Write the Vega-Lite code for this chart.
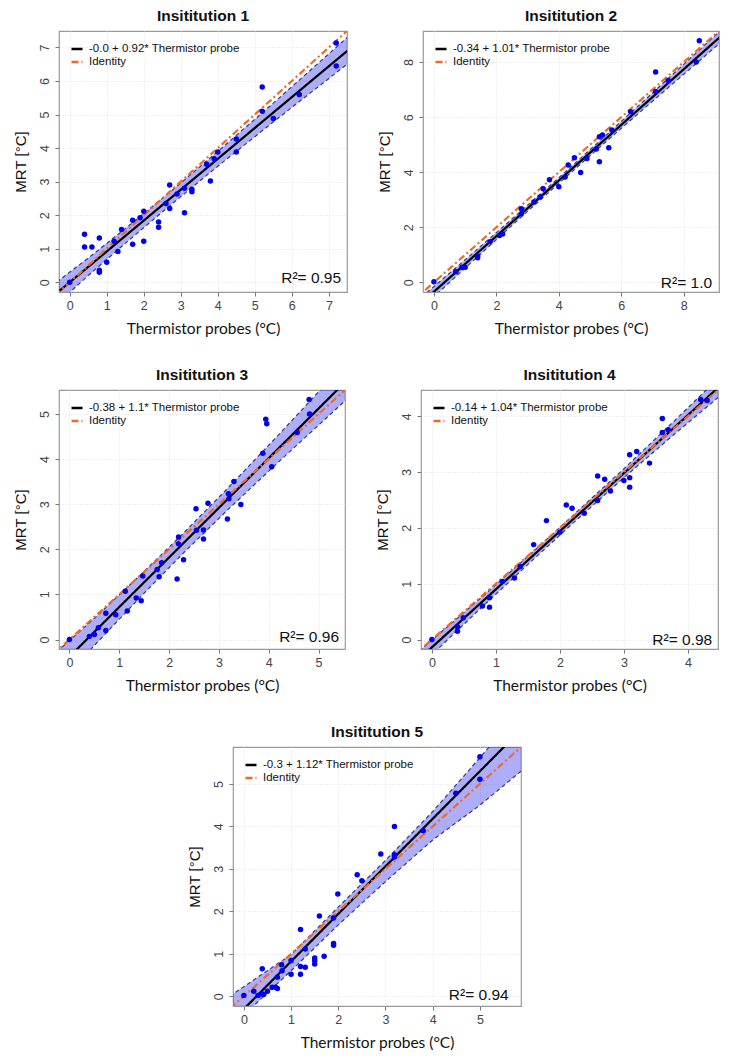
{
  "$schema": "https://vega.github.io/schema/vega-lite/v6.json",
  "background": "white",
  "padding": {"left": 12, "top": 7, "right": 5, "bottom": 5},
  "spacing": 28,
  "center": false,
  "resolve": {"scale": {"color": "independent", "strokeDash": "independent"}, "legend": {"color": "independent", "strokeDash": "independent"}},
  "config": {
    "view": {"stroke": "#999999", "strokeWidth": 1.2},
    "font": "Liberation Sans",
    "title": {"font": "Liberation Sans", "fontSize": 15.5, "fontWeight": "bold", "color": "#111111", "offset": 7},
    "axis": {"domain": false, "ticks": true, "tickColor": "#777777", "tickSize": 4, "labelFont": "Liberation Sans", "labelFontSize": 12.5, "labelColor": "#444444", "labelOverlap": false, "grid": true, "gridColor": "#e2e2e2", "gridDash": [1, 2], "titleFontWeight": "normal", "titleColor": "#111111"},
    "axisX": {"labelPadding": 3, "titlePadding": 10, "titleFont": "Lato", "titleFontSize": 15.5},
    "axisY": {"labelAngle": -90, "labelAlign": "center", "labelBaseline": "bottom", "labelPadding": 4, "titlePadding": 10, "titleFont": "Liberation Sans", "titleFontSize": 15, "labelOverlap": false},
    "legend": {"orient": "top-left", "offset": 11, "padding": 0, "labelFont": "Liberation Sans", "labelFontSize": 11.5, "labelColor": "#111111", "labelLimit": 300, "symbolType": "stroke", "symbolSize": 121, "symbolStrokeWidth": 2.5, "rowPadding": -3, "labelOffset": 5}
  },
  "vconcat": [
    {
      "spacing": 28,
      "resolve": {"scale": {"color": "independent", "strokeDash": "independent"}, "legend": {"color": "independent", "strokeDash": "independent"}},
      "hconcat": [
        {
          "width": 288, "height": 261,
          "title": "Insititution 1",
          "layer": [
            {
              "encoding": {
                "x": {"field": "x", "type": "quantitative", "scale": {"domain": [-0.29, 7.49], "nice": false, "zero": false}, "axis": {"title": "Thermistor probes (°C)", "values": [0, 1, 2, 3, 4, 5, 6, 7], "format": "d", "labelOverlap": false}},
                "y": {"field": "y", "type": "quantitative", "scale": {"domain": [-0.29, 7.49], "nice": false, "zero": false}, "axis": {"title": "MRT [°C]", "values": [0, 1, 2, 3, 4, 5, 6, 7], "format": "d", "labelOverlap": false}}
              },
              "layer": [
                {
                  "data": {"values": [{"x": -0.35, "lo": -0.65, "hi": 0.01}, {"x": 0.5, "lo": 0.2, "hi": 0.72}, {"x": 1.5, "lo": 1.16, "hi": 1.6}, {"x": 2.7, "lo": 2.28, "hi": 2.68}, {"x": 4.0, "lo": 3.46, "hi": 3.9}, {"x": 5.5, "lo": 4.78, "hi": 5.34}, {"x": 7.55, "lo": 6.55, "hi": 7.35}]},
                  "mark": {"type": "area", "color": "#3333ee", "opacity": 0.4, "clip": true},
                  "encoding": {
                    "y": {"field": "lo", "type": "quantitative", "scale": {"domain": [-0.29, 7.49], "nice": false, "zero": false}, "axis": {"title": "MRT [°C]", "values": [0, 1, 2, 3, 4, 5, 6, 7], "format": "d", "labelOverlap": false}},
                    "y2": {"field": "hi"}
                  }
                },
                {
                  "data": {"values": [{"x": -0.35, "lo": -0.65, "hi": 0.01}, {"x": 0.5, "lo": 0.2, "hi": 0.72}, {"x": 1.5, "lo": 1.16, "hi": 1.6}, {"x": 2.7, "lo": 2.28, "hi": 2.68}, {"x": 4.0, "lo": 3.46, "hi": 3.9}, {"x": 5.5, "lo": 4.78, "hi": 5.34}, {"x": 7.55, "lo": 6.55, "hi": 7.35}]},
                  "transform": [{"fold": ["lo", "hi"], "as": ["bound", "y"]}],
                  "mark": {"type": "line", "color": "#2b3a92", "strokeDash": [4, 3], "strokeWidth": 1.2, "clip": true},
                  "encoding": {"detail": {"field": "bound"}}
                },
                {
                  "data": {"values": [{"s": "-0.0 + 0.92* Thermistor probe", "x": -1, "y": -0.92}, {"s": "-0.0 + 0.92* Thermistor probe", "x": 8, "y": 7.36}, {"s": "Identity", "x": -1, "y": -1}, {"s": "Identity", "x": 8, "y": 8}]},
                  "mark": {"type": "line", "strokeWidth": 2.2, "clip": true},
                  "encoding": {
                    "color": {"field": "s", "type": "nominal", "scale": {"domain": ["-0.0 + 0.92* Thermistor probe", "Identity"], "range": ["#000000", "#ee6a2a"]}, "legend": {"title": null}},
                    "strokeDash": {"field": "s", "type": "nominal", "scale": {"domain": ["-0.0 + 0.92* Thermistor probe", "Identity"], "range": [[1, 0], [7, 3, 2, 3]]}, "legend": {"title": null}}
                  }
                },
                {
                  "data": {"values": [{"x": 0, "y": 0}, {"x": 0.4, "y": 1.43}, {"x": 0.4, "y": 1.05}, {"x": 0.6, "y": 1.05}, {"x": 0.8, "y": 1.32}, {"x": 0.8, "y": 0.36}, {"x": 0.8, "y": 0.3}, {"x": 1.0, "y": 0.6}, {"x": 1.2, "y": 1.22}, {"x": 1.3, "y": 0.92}, {"x": 1.4, "y": 1.57}, {"x": 1.7, "y": 1.85}, {"x": 1.7, "y": 1.13}, {"x": 1.9, "y": 1.92}, {"x": 2.0, "y": 2.12}, {"x": 2.0, "y": 1.22}, {"x": 2.4, "y": 1.8}, {"x": 2.4, "y": 1.64}, {"x": 2.6, "y": 2.35}, {"x": 2.7, "y": 2.9}, {"x": 2.7, "y": 2.2}, {"x": 2.9, "y": 2.63}, {"x": 3.1, "y": 2.07}, {"x": 3.1, "y": 2.8}, {"x": 3.3, "y": 2.77}, {"x": 3.3, "y": 2.7}, {"x": 3.7, "y": 3.52}, {"x": 3.8, "y": 3.02}, {"x": 3.9, "y": 3.68}, {"x": 4.0, "y": 3.88}, {"x": 4.5, "y": 4.27}, {"x": 4.5, "y": 3.88}, {"x": 5.2, "y": 5.82}, {"x": 5.2, "y": 5.1}, {"x": 5.5, "y": 4.88}, {"x": 6.2, "y": 5.6}, {"x": 7.2, "y": 7.13}, {"x": 7.2, "y": 6.45}]},
                  "mark": {"type": "circle", "color": "#0000ee", "opacity": 1, "size": 30}
                }
              ]
            },
            {
              "data": {"values": [{"label": "R²= 0.95"}]},
              "mark": {"type": "text", "align": "right", "baseline": "alphabetic", "fontSize": 15.5, "font": "Liberation Sans", "color": "#111111"},
              "encoding": {
                "x": {"datum": 7.33, "type": "quantitative", "axis": {"title": "Thermistor probes (°C)", "values": [0, 1, 2, 3, 4, 5, 6, 7], "format": "d", "labelOverlap": false}},
                "y": {"datum": -0.02, "type": "quantitative", "axis": {"title": "MRT [°C]", "values": [0, 1, 2, 3, 4, 5, 6, 7], "format": "d", "labelOverlap": false}},
                "text": {"field": "label"}
              }
            }
          ]
        },
        {
          "width": 296, "height": 261,
          "title": "Insititution 2",
          "layer": [
            {
              "encoding": {
                "x": {"field": "x", "type": "quantitative", "scale": {"domain": [-0.35, 9.13], "nice": false, "zero": false}, "axis": {"title": "Thermistor probes (°C)", "values": [0, 2, 4, 6, 8], "format": "d", "labelOverlap": false}},
                "y": {"field": "y", "type": "quantitative", "scale": {"domain": [-0.35, 9.13], "nice": false, "zero": false}, "axis": {"title": "MRT [°C]", "values": [0, 2, 4, 6, 8], "format": "d", "labelOverlap": false}}
              },
              "layer": [
                {
                  "data": {"values": [{"x": -0.4, "lo": -0.94, "hi": -0.54}, {"x": 1, "lo": 0.52, "hi": 0.82}, {"x": 2.5, "lo": 2.07, "hi": 2.3}, {"x": 4, "lo": 3.6, "hi": 3.8}, {"x": 5.5, "lo": 5.1, "hi": 5.33}, {"x": 7, "lo": 6.58, "hi": 6.88}, {"x": 9.2, "lo": 8.73, "hi": 9.17}]},
                  "mark": {"type": "area", "color": "#3333ee", "opacity": 0.4, "clip": true},
                  "encoding": {
                    "y": {"field": "lo", "type": "quantitative", "scale": {"domain": [-0.35, 9.13], "nice": false, "zero": false}, "axis": {"title": "MRT [°C]", "values": [0, 2, 4, 6, 8], "format": "d", "labelOverlap": false}},
                    "y2": {"field": "hi"}
                  }
                },
                {
                  "data": {"values": [{"x": -0.4, "lo": -0.94, "hi": -0.54}, {"x": 1, "lo": 0.52, "hi": 0.82}, {"x": 2.5, "lo": 2.07, "hi": 2.3}, {"x": 4, "lo": 3.6, "hi": 3.8}, {"x": 5.5, "lo": 5.1, "hi": 5.33}, {"x": 7, "lo": 6.58, "hi": 6.88}, {"x": 9.2, "lo": 8.73, "hi": 9.17}]},
                  "transform": [{"fold": ["lo", "hi"], "as": ["bound", "y"]}],
                  "mark": {"type": "line", "color": "#2b3a92", "strokeDash": [4, 3], "strokeWidth": 1.2, "clip": true},
                  "encoding": {"detail": {"field": "bound"}}
                },
                {
                  "data": {"values": [{"s": "-0.34 + 1.01* Thermistor probe", "x": -1, "y": -1.35}, {"s": "-0.34 + 1.01* Thermistor probe", "x": 10, "y": 9.76}, {"s": "Identity", "x": -1, "y": -1}, {"s": "Identity", "x": 10, "y": 10}]},
                  "mark": {"type": "line", "strokeWidth": 2.2, "clip": true},
                  "encoding": {
                    "color": {"field": "s", "type": "nominal", "scale": {"domain": ["-0.34 + 1.01* Thermistor probe", "Identity"], "range": ["#000000", "#ee6a2a"]}, "legend": {"title": null}},
                    "strokeDash": {"field": "s", "type": "nominal", "scale": {"domain": ["-0.34 + 1.01* Thermistor probe", "Identity"], "range": [[1, 0], [7, 3, 2, 3]]}, "legend": {"title": null}}
                  }
                },
                {
                  "data": {"values": [{"x": 0, "y": 0.02}, {"x": 0.7, "y": 0.39}, {"x": 0.9, "y": 0.55}, {"x": 1.0, "y": 0.55}, {"x": 1.4, "y": 0.97}, {"x": 1.4, "y": 0.89}, {"x": 1.8, "y": 1.48}, {"x": 2.1, "y": 1.7}, {"x": 2.2, "y": 1.76}, {"x": 2.8, "y": 2.67}, {"x": 2.8, "y": 2.49}, {"x": 3.2, "y": 2.92}, {"x": 3.4, "y": 3.1}, {"x": 3.5, "y": 3.4}, {"x": 3.7, "y": 3.73}, {"x": 4.0, "y": 3.47}, {"x": 4.2, "y": 3.83}, {"x": 4.3, "y": 4.26}, {"x": 4.5, "y": 4.53}, {"x": 4.7, "y": 3.99}, {"x": 4.9, "y": 4.5}, {"x": 5.2, "y": 4.84}, {"x": 5.3, "y": 4.38}, {"x": 5.3, "y": 5.29}, {"x": 5.4, "y": 5.35}, {"x": 5.6, "y": 4.89}, {"x": 5.7, "y": 5.53}, {"x": 6.3, "y": 6.2}, {"x": 7.1, "y": 7.64}, {"x": 7.1, "y": 6.93}, {"x": 7.5, "y": 7.33}, {"x": 8.4, "y": 8.0}, {"x": 8.5, "y": 8.78}]},
                  "mark": {"type": "circle", "color": "#0000ee", "opacity": 1, "size": 30}
                }
              ]
            },
            {
              "data": {"values": [{"label": "R²= 1.0"}]},
              "mark": {"type": "text", "align": "right", "baseline": "alphabetic", "fontSize": 15.5, "font": "Liberation Sans", "color": "#111111"},
              "encoding": {
                "x": {"datum": 8.91, "type": "quantitative", "axis": {"title": "Thermistor probes (°C)", "values": [0, 2, 4, 6, 8], "format": "d", "labelOverlap": false}},
                "y": {"datum": -0.2, "type": "quantitative", "axis": {"title": "MRT [°C]", "values": [0, 2, 4, 6, 8], "format": "d", "labelOverlap": false}},
                "text": {"field": "label"}
              }
            }
          ]
        }
      ]
    },
    {
      "spacing": 28,
      "resolve": {"scale": {"color": "independent", "strokeDash": "independent"}, "legend": {"color": "independent", "strokeDash": "independent"}},
      "hconcat": [
        {
          "width": 286, "height": 259,
          "title": "Insititution 3",
          "layer": [
            {
              "encoding": {
                "x": {"field": "x", "type": "quantitative", "scale": {"domain": [-0.21, 5.53], "nice": false, "zero": false}, "axis": {"title": "Thermistor probes (°C)", "values": [0, 1, 2, 3, 4, 5], "format": "d", "labelOverlap": false}},
                "y": {"field": "y", "type": "quantitative", "scale": {"domain": [-0.21, 5.53], "nice": false, "zero": false}, "axis": {"title": "MRT [°C]", "values": [0, 1, 2, 3, 4, 5], "format": "d", "labelOverlap": false}}
              },
              "layer": [
                {
                  "data": {"values": [{"x": -0.25, "lo": -1.03, "hi": -0.27}, {"x": 0.5, "lo": -0.13, "hi": 0.47}, {"x": 1.5, "lo": 1.03, "hi": 1.51}, {"x": 2.3, "lo": 1.93, "hi": 2.37}, {"x": 3.2, "lo": 2.9, "hi": 3.38}, {"x": 4.2, "lo": 3.94, "hi": 4.54}, {"x": 5.6, "lo": 5.36, "hi": 6.2}]},
                  "mark": {"type": "area", "color": "#3333ee", "opacity": 0.4, "clip": true},
                  "encoding": {
                    "y": {"field": "lo", "type": "quantitative", "scale": {"domain": [-0.21, 5.53], "nice": false, "zero": false}, "axis": {"title": "MRT [°C]", "values": [0, 1, 2, 3, 4, 5], "format": "d", "labelOverlap": false}},
                    "y2": {"field": "hi"}
                  }
                },
                {
                  "data": {"values": [{"x": -0.25, "lo": -1.03, "hi": -0.27}, {"x": 0.5, "lo": -0.13, "hi": 0.47}, {"x": 1.5, "lo": 1.03, "hi": 1.51}, {"x": 2.3, "lo": 1.93, "hi": 2.37}, {"x": 3.2, "lo": 2.9, "hi": 3.38}, {"x": 4.2, "lo": 3.94, "hi": 4.54}, {"x": 5.6, "lo": 5.36, "hi": 6.2}]},
                  "transform": [{"fold": ["lo", "hi"], "as": ["bound", "y"]}],
                  "mark": {"type": "line", "color": "#2b3a92", "strokeDash": [4, 3], "strokeWidth": 1.2, "clip": true},
                  "encoding": {"detail": {"field": "bound"}}
                },
                {
                  "data": {"values": [{"s": "-0.38 + 1.1* Thermistor probe", "x": -1, "y": -1.48}, {"s": "-0.38 + 1.1* Thermistor probe", "x": 6, "y": 6.22}, {"s": "Identity", "x": -1, "y": -1}, {"s": "Identity", "x": 6, "y": 6}]},
                  "mark": {"type": "line", "strokeWidth": 2.2, "clip": true},
                  "encoding": {
                    "color": {"field": "s", "type": "nominal", "scale": {"domain": ["-0.38 + 1.1* Thermistor probe", "Identity"], "range": ["#000000", "#ee6a2a"]}, "legend": {"title": null}},
                    "strokeDash": {"field": "s", "type": "nominal", "scale": {"domain": ["-0.38 + 1.1* Thermistor probe", "Identity"], "range": [[1, 0], [7, 3, 2, 3]]}, "legend": {"title": null}}
                  }
                },
                {
                  "data": {"values": [{"x": 0, "y": 0}, {"x": 0.4, "y": 0.07}, {"x": 0.5, "y": 0.11}, {"x": 0.58, "y": 0.26}, {"x": 0.73, "y": 0.58}, {"x": 0.73, "y": 0.2}, {"x": 0.93, "y": 0.55}, {"x": 1.12, "y": 1.07}, {"x": 1.16, "y": 0.63}, {"x": 1.34, "y": 0.92}, {"x": 1.44, "y": 0.86}, {"x": 1.47, "y": 1.41}, {"x": 1.76, "y": 1.55}, {"x": 1.8, "y": 1.39}, {"x": 1.85, "y": 1.7}, {"x": 2.16, "y": 1.34}, {"x": 2.19, "y": 2.27}, {"x": 2.19, "y": 2.12}, {"x": 2.29, "y": 1.77}, {"x": 2.54, "y": 2.9}, {"x": 2.55, "y": 2.42}, {"x": 2.69, "y": 2.43}, {"x": 2.69, "y": 2.23}, {"x": 2.78, "y": 3.02}, {"x": 3.17, "y": 2.67}, {"x": 3.19, "y": 3.23}, {"x": 3.2, "y": 3.12}, {"x": 3.3, "y": 3.5}, {"x": 3.44, "y": 2.99}, {"x": 3.88, "y": 4.13}, {"x": 3.94, "y": 4.88}, {"x": 3.96, "y": 4.78}, {"x": 4.06, "y": 3.83}, {"x": 4.57, "y": 4.59}, {"x": 4.81, "y": 5.32}, {"x": 4.82, "y": 5.0}]},
                  "mark": {"type": "circle", "color": "#0000ee", "opacity": 1, "size": 30}
                }
              ]
            },
            {
              "data": {"values": [{"label": "R²= 0.96"}]},
              "mark": {"type": "text", "align": "right", "baseline": "alphabetic", "fontSize": 15.5, "font": "Liberation Sans", "color": "#111111"},
              "encoding": {
                "x": {"datum": 5.41, "type": "quantitative", "axis": {"title": "Thermistor probes (°C)", "values": [0, 1, 2, 3, 4, 5], "format": "d", "labelOverlap": false}},
                "y": {"datum": -0.055, "type": "quantitative", "axis": {"title": "MRT [°C]", "values": [0, 1, 2, 3, 4, 5], "format": "d", "labelOverlap": false}},
                "text": {"field": "label"}
              }
            }
          ]
        },
        {
          "width": 297, "height": 259,
          "title": "Insititution 4",
          "layer": [
            {
              "encoding": {
                "x": {"field": "x", "type": "quantitative", "scale": {"domain": [-0.17, 4.47], "nice": false, "zero": false}, "axis": {"title": "Thermistor probes (°C)", "values": [0, 1, 2, 3, 4], "format": "d", "labelOverlap": false}},
                "y": {"field": "y", "type": "quantitative", "scale": {"domain": [-0.17, 4.47], "nice": false, "zero": false}, "axis": {"title": "MRT [°C]", "values": [0, 1, 2, 3, 4], "format": "d", "labelOverlap": false}}
              },
              "layer": [
                {
                  "data": {"values": [{"x": -0.2, "lo": -0.49, "hi": -0.21}, {"x": 0.8, "lo": 0.6, "hi": 0.78}, {"x": 1.6, "lo": 1.45, "hi": 1.59}, {"x": 2.2, "lo": 2.08, "hi": 2.22}, {"x": 3.0, "lo": 2.9, "hi": 3.06}, {"x": 3.8, "lo": 3.69, "hi": 3.93}, {"x": 4.6, "lo": 4.46, "hi": 4.82}]},
                  "mark": {"type": "area", "color": "#3333ee", "opacity": 0.4, "clip": true},
                  "encoding": {
                    "y": {"field": "lo", "type": "quantitative", "scale": {"domain": [-0.17, 4.47], "nice": false, "zero": false}, "axis": {"title": "MRT [°C]", "values": [0, 1, 2, 3, 4], "format": "d", "labelOverlap": false}},
                    "y2": {"field": "hi"}
                  }
                },
                {
                  "data": {"values": [{"x": -0.2, "lo": -0.49, "hi": -0.21}, {"x": 0.8, "lo": 0.6, "hi": 0.78}, {"x": 1.6, "lo": 1.45, "hi": 1.59}, {"x": 2.2, "lo": 2.08, "hi": 2.22}, {"x": 3.0, "lo": 2.9, "hi": 3.06}, {"x": 3.8, "lo": 3.69, "hi": 3.93}, {"x": 4.6, "lo": 4.46, "hi": 4.82}]},
                  "transform": [{"fold": ["lo", "hi"], "as": ["bound", "y"]}],
                  "mark": {"type": "line", "color": "#2b3a92", "strokeDash": [4, 3], "strokeWidth": 1.2, "clip": true},
                  "encoding": {"detail": {"field": "bound"}}
                },
                {
                  "data": {"values": [{"s": "-0.14 + 1.04* Thermistor probe", "x": -1, "y": -1.18}, {"s": "-0.14 + 1.04* Thermistor probe", "x": 5, "y": 5.06}, {"s": "Identity", "x": -1, "y": -1}, {"s": "Identity", "x": 5, "y": 5}]},
                  "mark": {"type": "line", "strokeWidth": 2.2, "clip": true},
                  "encoding": {
                    "color": {"field": "s", "type": "nominal", "scale": {"domain": ["-0.14 + 1.04* Thermistor probe", "Identity"], "range": ["#000000", "#ee6a2a"]}, "legend": {"title": null}},
                    "strokeDash": {"field": "s", "type": "nominal", "scale": {"domain": ["-0.14 + 1.04* Thermistor probe", "Identity"], "range": [[1, 0], [7, 3, 2, 3]]}, "legend": {"title": null}}
                  }
                },
                {
                  "data": {"values": [{"x": 0, "y": 0}, {"x": 0.4, "y": 0.23}, {"x": 0.4, "y": 0.15}, {"x": 0.49, "y": 0.39}, {"x": 0.79, "y": 0.6}, {"x": 0.9, "y": 0.75}, {"x": 0.9, "y": 0.58}, {"x": 1.1, "y": 1.04}, {"x": 1.29, "y": 1.1}, {"x": 1.38, "y": 1.31}, {"x": 1.59, "y": 1.7}, {"x": 1.79, "y": 2.13}, {"x": 2.0, "y": 1.92}, {"x": 2.1, "y": 2.41}, {"x": 2.19, "y": 2.35}, {"x": 2.38, "y": 2.26}, {"x": 2.59, "y": 2.93}, {"x": 2.59, "y": 2.49}, {"x": 2.7, "y": 2.87}, {"x": 2.79, "y": 2.66}, {"x": 3.0, "y": 2.85}, {"x": 3.09, "y": 3.31}, {"x": 3.09, "y": 2.9}, {"x": 3.09, "y": 2.73}, {"x": 3.2, "y": 3.37}, {"x": 3.4, "y": 3.16}, {"x": 3.6, "y": 3.96}, {"x": 3.6, "y": 3.71}, {"x": 3.69, "y": 3.76}, {"x": 4.2, "y": 4.3}, {"x": 4.3, "y": 4.28}]},
                  "mark": {"type": "circle", "color": "#0000ee", "opacity": 1, "size": 30}
                }
              ]
            },
            {
              "data": {"values": [{"label": "R²= 0.98"}]},
              "mark": {"type": "text", "align": "right", "baseline": "alphabetic", "fontSize": 15.5, "font": "Liberation Sans", "color": "#111111"},
              "encoding": {
                "x": {"datum": 4.38, "type": "quantitative", "axis": {"title": "Thermistor probes (°C)", "values": [0, 1, 2, 3, 4], "format": "d", "labelOverlap": false}},
                "y": {"datum": -0.1, "type": "quantitative", "axis": {"title": "MRT [°C]", "values": [0, 1, 2, 3, 4], "format": "d", "labelOverlap": false}},
                "text": {"field": "label"}
              }
            }
          ]
        }
      ]
    },
    {
      "spacing": 0,
      "resolve": {"scale": {"color": "independent", "strokeDash": "independent"}, "legend": {"color": "independent", "strokeDash": "independent"}},
      "hconcat": [
        {
          "width": 127, "height": 259,
          "view": {"stroke": null, "fill": null},
          "data": {"values": []},
          "mark": {"type": "point", "opacity": 0}
        },
        {
          "width": 288, "height": 259,
          "title": "Insititution 5",
          "layer": [
            {
              "encoding": {
                "x": {"field": "x", "type": "quantitative", "scale": {"domain": [-0.23, 5.87], "nice": false, "zero": false}, "axis": {"title": "Thermistor probes (°C)", "values": [0, 1, 2, 3, 4, 5], "format": "d", "labelOverlap": false}},
                "y": {"field": "y", "type": "quantitative", "scale": {"domain": [-0.23, 5.87], "nice": false, "zero": false}, "axis": {"title": "MRT [°C]", "values": [0, 1, 2, 3, 4, 5], "format": "d", "labelOverlap": false}}
              },
              "layer": [
                {
                  "data": {"values": [{"x": -0.3, "lo": -0.75, "hi": 0.0}, {"x": 1, "lo": 0.6, "hi": 0.98}, {"x": 2, "lo": 1.68, "hi": 2.1}, {"x": 3, "lo": 2.7, "hi": 3.2}, {"x": 4, "lo": 3.68, "hi": 4.35}, {"x": 5, "lo": 4.5, "hi": 5.62}, {"x": 6, "lo": 5.42, "hi": 6.9}]},
                  "mark": {"type": "area", "color": "#3333ee", "opacity": 0.4, "clip": true},
                  "encoding": {
                    "y": {"field": "lo", "type": "quantitative", "scale": {"domain": [-0.23, 5.87], "nice": false, "zero": false}, "axis": {"title": "MRT [°C]", "values": [0, 1, 2, 3, 4, 5], "format": "d", "labelOverlap": false}},
                    "y2": {"field": "hi"}
                  }
                },
                {
                  "data": {"values": [{"x": -0.3, "lo": -0.75, "hi": 0.0}, {"x": 1, "lo": 0.6, "hi": 0.98}, {"x": 2, "lo": 1.68, "hi": 2.1}, {"x": 3, "lo": 2.7, "hi": 3.2}, {"x": 4, "lo": 3.68, "hi": 4.35}, {"x": 5, "lo": 4.5, "hi": 5.62}, {"x": 6, "lo": 5.42, "hi": 6.9}]},
                  "transform": [{"fold": ["lo", "hi"], "as": ["bound", "y"]}],
                  "mark": {"type": "line", "color": "#2b3a92", "strokeDash": [4, 3], "strokeWidth": 1.2, "clip": true},
                  "encoding": {"detail": {"field": "bound"}}
                },
                {
                  "data": {"values": [{"s": "-0.3 + 1.12* Thermistor probe", "x": -1, "y": -1.42}, {"s": "-0.3 + 1.12* Thermistor probe", "x": 6.5, "y": 6.98}, {"s": "Identity", "x": -1, "y": -1}, {"s": "Identity", "x": 6.5, "y": 6.5}]},
                  "mark": {"type": "line", "strokeWidth": 2.2, "clip": true},
                  "encoding": {
                    "color": {"field": "s", "type": "nominal", "scale": {"domain": ["-0.3 + 1.12* Thermistor probe", "Identity"], "range": ["#000000", "#ee6a2a"]}, "legend": {"title": null}},
                    "strokeDash": {"field": "s", "type": "nominal", "scale": {"domain": ["-0.3 + 1.12* Thermistor probe", "Identity"], "range": [[1, 0], [7, 3, 2, 3]]}, "legend": {"title": null}}
                  }
                },
                {
                  "data": {"values": [{"x": 0, "y": 0.02}, {"x": 0.21, "y": 0.12}, {"x": 0.3, "y": 0.02}, {"x": 0.39, "y": 0.05}, {"x": 0.42, "y": 0.04}, {"x": 0.39, "y": 0.65}, {"x": 0.5, "y": 0.12}, {"x": 0.6, "y": 0.21}, {"x": 0.67, "y": 0.21}, {"x": 0.71, "y": 0.18}, {"x": 0.71, "y": 0.45}, {"x": 0.8, "y": 0.74}, {"x": 0.81, "y": 0.6}, {"x": 1.0, "y": 0.84}, {"x": 1.0, "y": 0.52}, {"x": 1.2, "y": 1.57}, {"x": 1.2, "y": 0.7}, {"x": 1.2, "y": 0.52}, {"x": 1.3, "y": 0.68}, {"x": 1.3, "y": 1.11}, {"x": 1.5, "y": 0.9}, {"x": 1.5, "y": 0.84}, {"x": 1.5, "y": 0.76}, {"x": 1.6, "y": 1.89}, {"x": 1.7, "y": 0.94}, {"x": 1.9, "y": 1.24}, {"x": 1.9, "y": 1.2}, {"x": 1.9, "y": 1.84}, {"x": 1.99, "y": 2.41}, {"x": 2.4, "y": 2.86}, {"x": 2.5, "y": 2.72}, {"x": 2.9, "y": 3.35}, {"x": 3.19, "y": 3.33}, {"x": 3.19, "y": 3.28}, {"x": 3.19, "y": 4.0}, {"x": 3.8, "y": 3.9}, {"x": 4.49, "y": 4.78}, {"x": 5.0, "y": 5.64}, {"x": 5.0, "y": 5.11}]},
                  "mark": {"type": "circle", "color": "#0000ee", "opacity": 1, "size": 30}
                }
              ]
            },
            {
              "data": {"values": [{"label": "R²= 0.94"}]},
              "mark": {"type": "text", "align": "right", "baseline": "alphabetic", "fontSize": 15.5, "font": "Liberation Sans", "color": "#111111"},
              "encoding": {
                "x": {"datum": 5.61, "type": "quantitative", "axis": {"title": "Thermistor probes (°C)", "values": [0, 1, 2, 3, 4, 5], "format": "d", "labelOverlap": false}},
                "y": {"datum": -0.09, "type": "quantitative", "axis": {"title": "MRT [°C]", "values": [0, 1, 2, 3, 4, 5], "format": "d", "labelOverlap": false}},
                "text": {"field": "label"}
              }
            }
          ]
        }
      ]
    }
  ]
}
